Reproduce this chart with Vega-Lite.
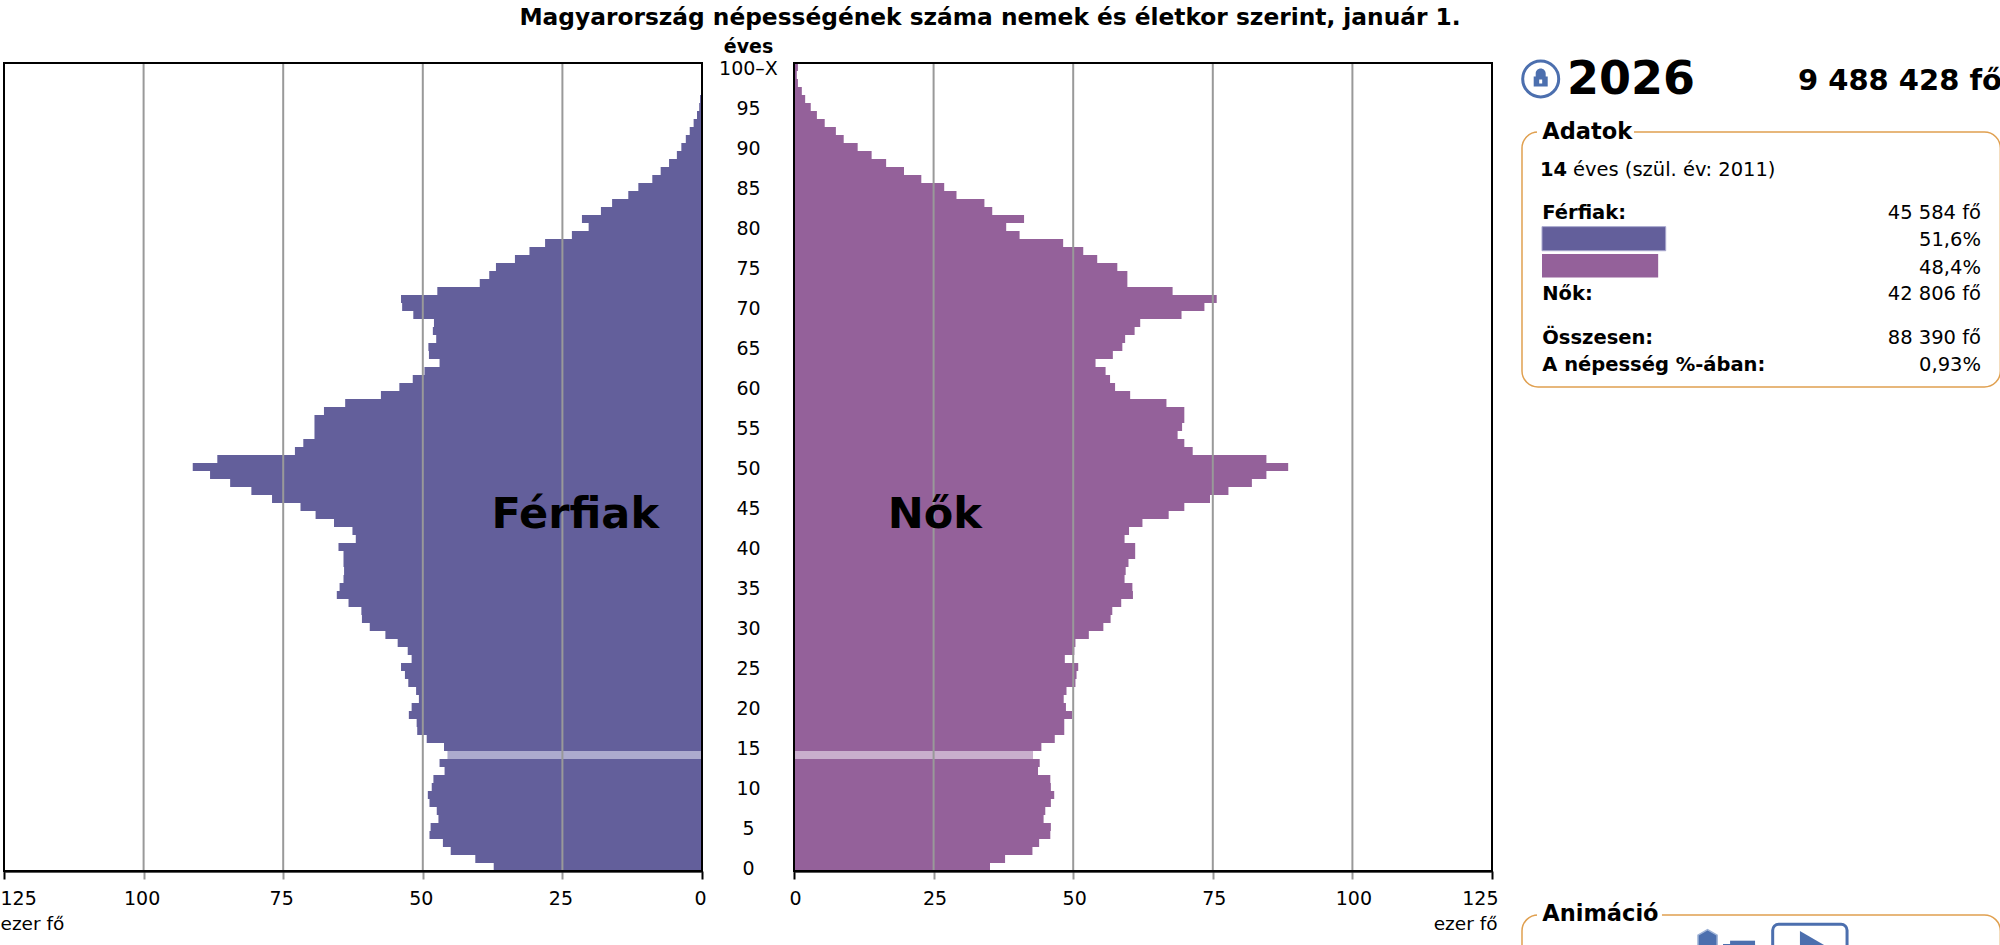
{"$schema":"https://vega.github.io/schema/vega-lite/v6.json","width":2000,"height":945,"padding":0,"autosize":{"type":"none"},"background":"white",
"title":{"text":"Magyarország népességének száma nemek és életkor szerint, január 1.","font":"DejaVu Sans","fontWeight":"bold","fontSize":23.3,"color":"#000","anchor":"middle","dx":-10,"dy":53,"offset":0,"baseline":"bottom"},
"config":{"view":{"stroke":null},"font":"DejaVu Sans","text":{"font":"DejaVu Sans"}},
"datasets":{
"ferfi":[{"age":100,"value":0.05},{"age":99,"value":0.05},{"age":98,"value":0.1},{"age":97,"value":0.15},{"age":96,"value":0.35},{"age":95,"value":0.5},{"age":94,"value":0.9},{"age":93,"value":1.5},{"age":92,"value":2.2},{"age":91,"value":2.9},{"age":90,"value":3.7},{"age":89,"value":4.5},{"age":88,"value":5.9},{"age":87,"value":7.4},{"age":86,"value":8.9},{"age":85,"value":11.4},{"age":84,"value":13.2},{"age":83,"value":16.1},{"age":82,"value":18.1},{"age":81,"value":21.5},{"age":80,"value":20.3},{"age":79,"value":23.3},{"age":78,"value":28.1},{"age":77,"value":30.9},{"age":76,"value":33.5},{"age":75,"value":36.9},{"age":74,"value":38.1},{"age":73,"value":39.8},{"age":72,"value":47.4},{"age":71,"value":53.9},{"age":70,"value":53.7},{"age":69,"value":51.7},{"age":68,"value":48},{"age":67,"value":48.2},{"age":66,"value":47.6},{"age":65,"value":49},{"age":64,"value":48.9},{"age":63,"value":47},{"age":62,"value":49.7},{"age":61,"value":51.8},{"age":60,"value":54.2},{"age":59,"value":57.5},{"age":58,"value":63.9},{"age":57,"value":67.7},{"age":56,"value":69.4},{"age":55,"value":69.4},{"age":54,"value":69.4},{"age":53,"value":71.4},{"age":52,"value":72.9},{"age":51,"value":86.8},{"age":50,"value":91.2},{"age":49,"value":88.1},{"age":48,"value":84.5},{"age":47,"value":80.7},{"age":46,"value":77},{"age":45,"value":71.9},{"age":44,"value":69.2},{"age":43,"value":65.9},{"age":42,"value":62.6},{"age":41,"value":62},{"age":40,"value":65.1},{"age":39,"value":64.2},{"age":38,"value":64.2},{"age":37,"value":64.1},{"age":36,"value":64.2},{"age":35,"value":64.9},{"age":34,"value":65.4},{"age":33,"value":63.3},{"age":32,"value":61},{"age":31,"value":60.9},{"age":30,"value":59.5},{"age":29,"value":56.7},{"age":28,"value":54.5},{"age":27,"value":52.7},{"age":26,"value":52},{"age":25,"value":53.9},{"age":24,"value":53.2},{"age":23,"value":52.6},{"age":22,"value":51.2},{"age":21,"value":50.7},{"age":20,"value":52},{"age":19,"value":52.5},{"age":18,"value":51.1},{"age":17,"value":51},{"age":16,"value":49.3},{"age":15,"value":46.2},{"age":14,"value":45.584},{"age":13,"value":47},{"age":12,"value":46.1},{"age":11,"value":48.1},{"age":10,"value":48.4},{"age":9,"value":49.1},{"age":8,"value":48.8},{"age":7,"value":47.5},{"age":6,"value":47.2},{"age":5,"value":48.6},{"age":4,"value":48.8},{"age":3,"value":46.4},{"age":2,"value":45},{"age":1,"value":40.6},{"age":0,"value":37.3}],
"no":[{"age":100,"value":0.7},{"age":99,"value":0.5},{"age":98,"value":0.7},{"age":97,"value":1.4},{"age":96,"value":2},{"age":95,"value":3},{"age":94,"value":4.1},{"age":93,"value":5.5},{"age":92,"value":7.5},{"age":91,"value":8.9},{"age":90,"value":11.4},{"age":89,"value":13.9},{"age":88,"value":16.5},{"age":87,"value":19.7},{"age":86,"value":22.8},{"age":85,"value":26.9},{"age":84,"value":29.1},{"age":83,"value":34.1},{"age":82,"value":35.5},{"age":81,"value":41.2},{"age":80,"value":38},{"age":79,"value":40.4},{"age":78,"value":48.2},{"age":77,"value":51.8},{"age":76,"value":54.3},{"age":75,"value":57.9},{"age":74,"value":59.7},{"age":73,"value":59.7},{"age":72,"value":67.8},{"age":71,"value":75.7},{"age":70,"value":73.5},{"age":69,"value":69.4},{"age":68,"value":62},{"age":67,"value":61},{"age":66,"value":59.3},{"age":65,"value":58.8},{"age":64,"value":57.1},{"age":63,"value":54},{"age":62,"value":55.8},{"age":61,"value":56.6},{"age":60,"value":57.5},{"age":59,"value":60.2},{"age":58,"value":66.7},{"age":57,"value":69.9},{"age":56,"value":69.9},{"age":55,"value":69.5},{"age":54,"value":68.7},{"age":53,"value":69.9},{"age":52,"value":71.4},{"age":51,"value":84.6},{"age":50,"value":88.5},{"age":49,"value":84.6},{"age":48,"value":82},{"age":47,"value":77.8},{"age":46,"value":74.5},{"age":45,"value":69.9},{"age":44,"value":67.1},{"age":43,"value":62.4},{"age":42,"value":60},{"age":41,"value":59.2},{"age":40,"value":61.1},{"age":39,"value":61.1},{"age":38,"value":59.9},{"age":37,"value":59.4},{"age":36,"value":59.2},{"age":35,"value":60.6},{"age":34,"value":60.7},{"age":33,"value":58.6},{"age":32,"value":57},{"age":31,"value":56.7},{"age":30,"value":55.4},{"age":29,"value":52.8},{"age":28,"value":50.4},{"age":27,"value":50.2},{"age":26,"value":48.5},{"age":25,"value":50.9},{"age":24,"value":50.6},{"age":23,"value":50.4},{"age":22,"value":48.8},{"age":21,"value":48.3},{"age":20,"value":48.7},{"age":19,"value":49.8},{"age":18,"value":48.4},{"age":17,"value":48.4},{"age":16,"value":46.7},{"age":15,"value":44.3},{"age":14,"value":42.806},{"age":13,"value":44},{"age":12,"value":43.7},{"age":11,"value":45.9},{"age":10,"value":46},{"age":9,"value":46.6},{"age":8,"value":46},{"age":7,"value":45},{"age":6,"value":44.7},{"age":5,"value":46},{"age":4,"value":45.9},{"age":3,"value":43.9},{"age":2,"value":42.7},{"age":1,"value":37.8},{"age":0,"value":35.1}],
"racs":[{"tick":25},{"tick":50},{"tick":75},{"tick":100}],
"cimkek":[{"szoveg":"Férfiak:","sor":1.595},{"szoveg":"Nők:","sor":4.56},{"szoveg":"Összesen:","sor":6.16},{"szoveg":"A népesség %-ában:","sor":7.15}],
"ertekek":[{"szoveg":"45 584 fő","sor":1.595},{"szoveg":"51,6%","sor":2.59},{"szoveg":"48,4%","sor":3.6},{"szoveg":"42 806 fő","sor":4.56},{"szoveg":"88 390 fő","sor":6.16},{"szoveg":"0,93%","sor":7.15}],
"egy":[{"n":1}]
},
"layer":[
{"data":{"name":"ferfi"},"mark":{"type":"bar"},"encoding":{
"x":{"field":"value","type":"quantitative","scale":{"domain":[125,0],"range":[4,702]},"axis":{"values":[125,100,75,50,25,0],"orient":"bottom","offset":-74,"grid":false,"title":"ezer fő","titleX":0,"titleY":52,"titleAlign":"left","titleBaseline":"middle","titleFontWeight":"normal","titleFontSize":18.5,"titleColor":"#000","titleFont":"DejaVu Sans","labelFont":"DejaVu Sans","labelFontSize":19,"labelColor":"#000","labelPadding":10,"labelFlush":false,"labelOverlap":false,"labelAlign":{"condition":{"test":"datum.value==125","value":"left"},"value":"center"},"labelOffset":{"condition":{"test":"datum.value==125","value":-4},"value":-2},"tickSize":8,"tickWidth":2,"tickColor":{"condition":{"test":"datum.value==0||datum.value==125","value":"#000"},"value":"#999"},"domainColor":"#222","domainWidth":2.5}},
"y":{"field":"age","type":"ordinal","sort":"descending","scale":{"type":"band","paddingInner":0,"paddingOuter":0,"range":[63,871]},"axis":{"values":[100,95,90,85,80,75,70,65,60,55,50,45,40,35,30,25,20,15,10,5,0],"orient":"left","offset":-748,"domain":false,"ticks":false,"tickSize":0,"grid":false,"labelAngle":0,"labelAlign":"center","labelBaseline":"middle","labelPadding":0,"labelOffset":2,"labelFont":"DejaVu Sans","labelFontSize":19,"labelColor":"#000","labelExpr":"datum.value==100?'100–X':datum.label","title":"éves","titleAngle":0,"titleX":0,"titleY":46,"titleAlign":"center","titleBaseline":"middle","titleFont":"DejaVu Sans","titleFontSize":19,"titleFontWeight":"bold","titleColor":"#000"}},
"color":{"condition":{"test":"datum.age==14","value":"#ADABCE"},"value":"#635F9B"}}},
{"data":{"name":"no"},"mark":{"type":"bar"},"encoding":{
"x":{"field":"value","type":"quantitative","scale":{"domain":[0,125],"range":[794,1492]},"axis":{"values":[0,25,50,75,100,125],"orient":"bottom","offset":-74,"grid":false,"title":"ezer fő","titleX":1497,"titleY":52,"titleAlign":"right","titleBaseline":"middle","titleFontWeight":"normal","titleFontSize":18.5,"titleColor":"#000","titleFont":"DejaVu Sans","labelFont":"DejaVu Sans","labelFontSize":19,"labelColor":"#000","labelPadding":10,"labelFlush":false,"labelOverlap":false,"labelAlign":{"condition":{"test":"datum.value==125","value":"right"},"value":"center"},"labelOffset":{"condition":{"test":"datum.value==125","value":6},"value":1},"tickSize":8,"tickWidth":2,"tickColor":{"condition":{"test":"datum.value==0||datum.value==125","value":"#000"},"value":"#999"},"domainColor":"#222","domainWidth":2.5}},
"y":{"field":"age","type":"ordinal","sort":"descending","scale":{"type":"band","paddingInner":0,"paddingOuter":0,"range":[63,871]},"axis":null},
"color":{"condition":{"test":"datum.age==14","value":"#C9AECD"},"value":"#94619A"}}},
{"data":{"name":"racs"},"mark":{"type":"rule","color":"#999","strokeWidth":2},"encoding":{
"x":{"field":"tick","type":"quantitative","scale":{"domain":[125,0],"range":[4,702]},"axis":null},
"y":{"datum":0,"scale":{"domain":[0,1],"range":[871,63]},"axis":null},"y2":{"datum":1}}},
{"data":{"name":"racs"},"mark":{"type":"rule","color":"#999","strokeWidth":2},"encoding":{
"x":{"field":"tick","type":"quantitative","scale":{"domain":[0,125],"range":[794,1492]},"axis":null},
"y":{"datum":0,"scale":{"domain":[0,1],"range":[871,63]},"axis":null},"y2":{"datum":1}}},
{"data":{"name":"egy"},"mark":{"type":"rect","fill":"transparent","stroke":"#000","strokeWidth":2},"encoding":{
"x":{"datum":125,"scale":{"domain":[125,0],"range":[4,702]},"axis":null},"x2":{"datum":0},
"y":{"datum":0,"scale":{"domain":[0,1],"range":[871,63]},"axis":null},"y2":{"datum":1}}},
{"data":{"name":"egy"},"mark":{"type":"rect","fill":"transparent","stroke":"#000","strokeWidth":2},"encoding":{
"x":{"datum":0,"scale":{"domain":[0,125],"range":[794,1492]},"axis":null},"x2":{"datum":125},
"y":{"datum":0,"scale":{"domain":[0,1],"range":[871,63]},"axis":null},"y2":{"datum":1}}},
{"data":{"values":[{"t":"Férfiak"}]},"mark":{"type":"text","font":"DejaVu Sans","fontWeight":"bold","fontSize":43,"color":"#000","align":"center","baseline":"middle"},"encoding":{"text":{"field":"t"},
"x":{"datum":22.7,"scale":{"domain":[125,0],"range":[4,702]},"axis":null},
"y":{"datum":44,"scale":{"type":"band","domain":[44],"range":[511,519]},"axis":null}}},
{"data":{"values":[{"t":"Nők"}]},"mark":{"type":"text","font":"DejaVu Sans","fontWeight":"bold","fontSize":43,"color":"#000","align":"center","baseline":"middle"},"encoding":{"text":{"field":"t"},
"x":{"datum":25.2,"scale":{"domain":[0,125],"range":[794,1492]},"axis":null},
"y":{"datum":44,"scale":{"type":"band","domain":[44],"range":[511,519]},"axis":null}}},

{"data":{"name":"egy"},"mark":{"type":"point","shape":"circle","size":1296,"filled":false,"opacity":1,"stroke":"#4C6FAE","strokeWidth":3},"encoding":{"x":{"datum":-0.48,"scale":{"domain":[0,100],"range":[1542,1813.4]},"axis":null},"y":{"datum":-3.25,"scale":{"domain":[0,10],"range":[168,442]},"axis":null}}},
{"data":{"name":"egy"},"mark":{"type":"point","shape":"M-0.7 -0.1H-0.5V-0.4A0.5 0.5 0 0 1 0.5 -0.4V-0.1H0.7V0.9H-0.7Z M-0.22 -0.1V-0.4A0.22 0.22 0 0 1 0.22 -0.4V-0.1Z M-0.15 0.2V0.6H0.15V0.2Z","size":400,"filled":true,"fill":"#4C6FAE","opacity":1,"strokeWidth":0},"encoding":{"x":{"datum":-0.48,"scale":{"domain":[0,100],"range":[1542,1813.4]},"axis":null},"y":{"datum":-3.3,"scale":{"domain":[0,10],"range":[168,442]},"axis":null}}},
{"data":{"values":[{"t":"2026"}]},"mark":{"type":"text","font":"DejaVu Sans","fontWeight":"bold","fontSize":46,"dy":3,"color":"#000","align":"left","baseline":"middle"},"encoding":{"text":{"field":"t"},"x":{"datum":9.2,"scale":{"domain":[0,100],"range":[1542,1813.4]},"axis":null},"y":{"datum":-3.32,"scale":{"domain":[0,10],"range":[168,442]},"axis":null}}},
{"data":{"values":[{"t":"9 488 428 fő"}]},"mark":{"type":"text","font":"DejaVu Sans","fontWeight":"bold","fontSize":29,"dy":1,"color":"#000","align":"left","baseline":"middle"},"encoding":{"text":{"field":"t"},"x":{"datum":94.3,"scale":{"domain":[0,100],"range":[1542,1813.4]},"axis":null},"y":{"datum":-3.21,"scale":{"domain":[0,10],"range":[168,442]},"axis":null}}},

{"data":{"name":"egy"},"mark":{"type":"rect","fill":"transparent","stroke":"#E0A050","strokeWidth":1.5,"cornerRadius":16},"encoding":{"x":{"datum":-7.37,"scale":{"domain":[0,100],"range":[1542,1813.4]},"axis":null},"x2":{"datum":168.9},"y":{"datum":-1.31,"scale":{"domain":[0,10],"range":[168,442]},"axis":null},"y2":{"datum":7.99}}},
{"data":{"name":"egy"},"mark":{"type":"rect","fill":"white"},"encoding":{"x":{"datum":-1.84,"scale":{"domain":[0,100],"range":[1542,1813.4]},"axis":null},"x2":{"datum":33.9},"y":{"datum":-1.57,"scale":{"domain":[0,10],"range":[168,442]},"axis":null},"y2":{"datum":-1.09}}},
{"data":{"values":[{"t":"Adatok"}]},"mark":{"type":"text","font":"DejaVu Sans","fontWeight":"bold","fontSize":22.5,"dy":1.5,"color":"#000","align":"left","baseline":"middle"},"encoding":{"text":{"field":"t"},"x":{"datum":0.1,"scale":{"domain":[0,100],"range":[1542,1813.4]},"axis":null},"y":{"datum":-1.36,"scale":{"domain":[0,10],"range":[168,442]},"axis":null}}},
{"data":{"values":[{"t":"14"}]},"mark":{"type":"text","font":"DejaVu Sans","fontWeight":"bold","fontSize":19.5,"dy":1.5,"color":"#000","align":"left","baseline":"middle"},"encoding":{"text":{"field":"t"},"x":{"datum":-0.74,"scale":{"domain":[0,100],"range":[1542,1813.4]},"axis":null},"y":{"datum":0,"scale":{"domain":[0,10],"range":[168,442]},"axis":null}}},
{"data":{"values":[{"t":"éves (szül. év: 2011)"}]},"mark":{"type":"text","font":"DejaVu Sans","fontSize":19.5,"dy":1.5,"color":"#000","align":"left","baseline":"middle"},"encoding":{"text":{"field":"t"},"x":{"datum":11.4,"scale":{"domain":[0,100],"range":[1542,1813.4]},"axis":null},"y":{"datum":0,"scale":{"domain":[0,10],"range":[168,442]},"axis":null}}},
{"data":{"name":"cimkek"},"mark":{"type":"text","font":"DejaVu Sans","fontWeight":"bold","fontSize":19.5,"dy":1.5,"color":"#000","align":"left","baseline":"middle"},"encoding":{"text":{"field":"szoveg"},"x":{"datum":0.1,"scale":{"domain":[0,100],"range":[1542,1813.4]},"axis":null},"y":{"field":"sor","type":"quantitative","scale":{"domain":[0,10],"range":[168,442]},"axis":null}}},
{"data":{"name":"ertekek"},"mark":{"type":"text","font":"DejaVu Sans","fontSize":19.5,"dy":1.5,"color":"#000","align":"right","baseline":"middle"},"encoding":{"text":{"field":"szoveg"},"x":{"datum":161.75,"scale":{"domain":[0,100],"range":[1542,1813.4]},"axis":null},"y":{"field":"sor","type":"quantitative","scale":{"domain":[0,10],"range":[168,442]},"axis":null}}},
{"data":{"values":[{"ezer":45.584}]},"mark":{"type":"rect","fill":"#635F9B","stroke":"#A9A8CE","strokeWidth":1},"encoding":{"x":{"field":"ezer","type":"quantitative","scale":{"domain":[0,100],"range":[1542,1813.4]},"axis":null},"x2":{"datum":0},"y":{"datum":2.14,"scale":{"domain":[0,10],"range":[168,442]},"axis":null},"y2":{"datum":3.02}}},
{"data":{"values":[{"ezer":42.806}]},"mark":{"type":"rect","fill":"#94619A"},"encoding":{"x":{"field":"ezer","type":"quantitative","scale":{"domain":[0,100],"range":[1542,1813.4]},"axis":null},"x2":{"datum":0},"y":{"datum":3.14,"scale":{"domain":[0,10],"range":[168,442]},"axis":null},"y2":{"datum":4.0}}},

{"data":{"name":"egy"},"mark":{"type":"rect","fill":"transparent","stroke":"#E0A050","strokeWidth":1.5,"cornerRadius":16},"encoding":{"x":{"datum":-7.37,"scale":{"domain":[0,100],"range":[1542,1813.4]},"axis":null},"x2":{"datum":168.9},"y":{"datum":27.26,"scale":{"domain":[0,10],"range":[168,442]},"axis":null},"y2":{"datum":29.45}}},
{"data":{"name":"egy"},"mark":{"type":"rect","fill":"white"},"encoding":{"x":{"datum":-1.84,"scale":{"domain":[0,100],"range":[1542,1813.4]},"axis":null},"x2":{"datum":44.2},"y":{"datum":27.0,"scale":{"domain":[0,10],"range":[168,442]},"axis":null},"y2":{"datum":27.5}}},
{"data":{"values":[{"t":"Animáció"}]},"mark":{"type":"text","font":"DejaVu Sans","fontWeight":"bold","fontSize":22.5,"dy":1,"color":"#000","align":"left","baseline":"middle"},"encoding":{"text":{"field":"t"},"x":{"datum":0.1,"scale":{"domain":[0,100],"range":[1542,1813.4]},"axis":null},"y":{"datum":27.19,"scale":{"domain":[0,10],"range":[168,442]},"axis":null}}},
{"data":{"name":"egy"},"mark":{"type":"point","shape":"M0 -1L0.87 -0.5V0.5L0 1L-0.87 0.5V-0.5Z","size":484,"filled":true,"fill":"#4C6FAE","stroke":"#9FB3D6","strokeWidth":1.5,"opacity":1},"encoding":{"x":{"datum":61,"scale":{"domain":[0,100],"range":[1542,1813.4]},"axis":null},"y":{"datum":28.2,"scale":{"domain":[0,10],"range":[168,442]},"axis":null}}},
{"data":{"name":"egy"},"mark":{"type":"rect","fill":"#4C6FAE"},"encoding":{"x":{"datum":69.3,"scale":{"domain":[0,100],"range":[1542,1813.4]},"axis":null},"x2":{"datum":78.5},"y":{"datum":28.2,"scale":{"domain":[0,10],"range":[168,442]},"axis":null},"y2":{"datum":28.4}}},
{"data":{"name":"egy"},"mark":{"type":"rect","fill":"#4C6FAE"},"encoding":{"x":{"datum":66.7,"scale":{"domain":[0,100],"range":[1542,1813.4]},"axis":null},"x2":{"datum":78.5},"y":{"datum":28.32,"scale":{"domain":[0,10],"range":[168,442]},"axis":null},"y2":{"datum":28.5}}},
{"data":{"name":"egy"},"mark":{"type":"rect","fill":"transparent","stroke":"#4C6FAE","strokeWidth":3,"cornerRadius":6},"encoding":{"x":{"datum":85,"scale":{"domain":[0,100],"range":[1542,1813.4]},"axis":null},"x2":{"datum":112.4},"y":{"datum":27.6,"scale":{"domain":[0,10],"range":[168,442]},"axis":null},"y2":{"datum":29.45}}},
{"data":{"name":"egy"},"mark":{"type":"point","shape":"triangle-right","size":784,"filled":true,"fill":"#4C6FAE","opacity":1,"strokeWidth":0},"encoding":{"x":{"datum":99.5,"scale":{"domain":[0,100],"range":[1542,1813.4]},"axis":null},"y":{"datum":28.36,"scale":{"domain":[0,10],"range":[168,442]},"axis":null}}}
],
"resolve":{"scale":{"x":"independent","y":"independent"},"axis":{"x":"independent","y":"independent"}}}
